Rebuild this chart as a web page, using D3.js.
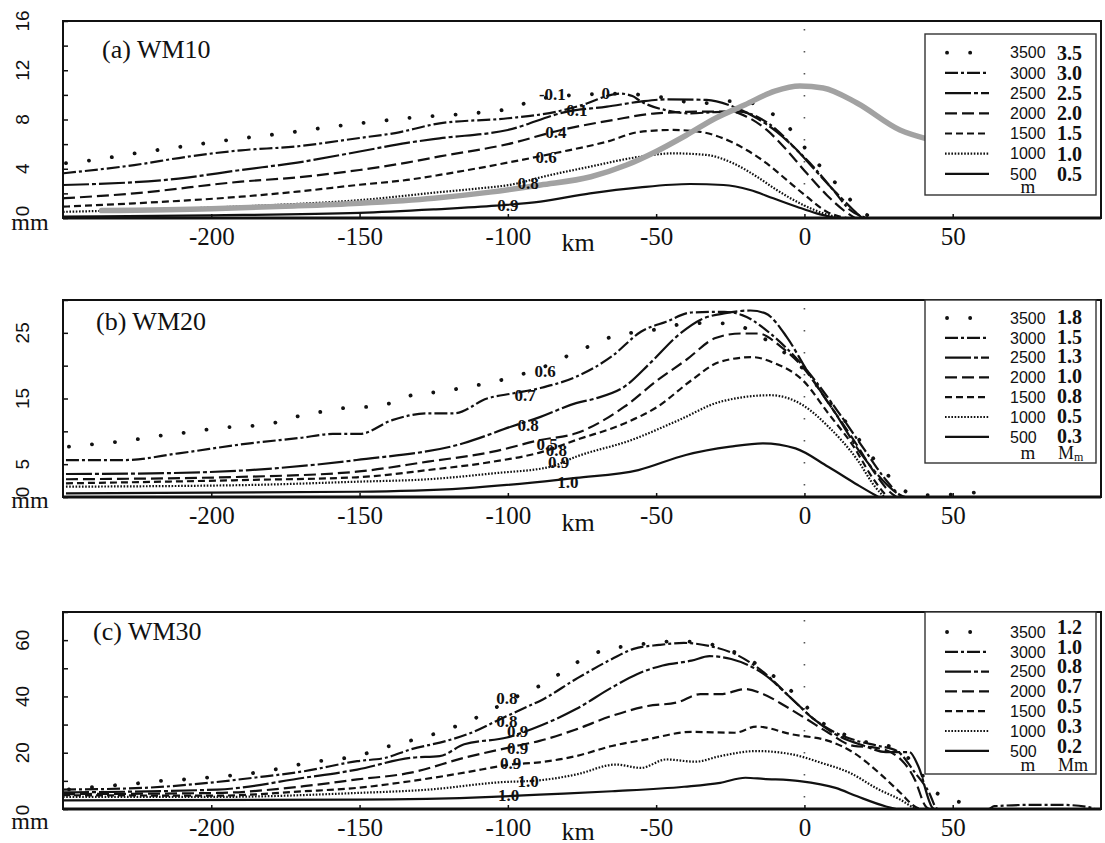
<!DOCTYPE html>
<html>
<head>
<meta charset="utf-8">
<script src="https://cdn.jsdelivr.net/npm/d3@7"></script>
<style>
  body { margin: 0; background: #fff; }
  svg { display: block; }
</style>
</head>
<body>
<svg></svg>
<script>
// MOUNTAIN HEIGHTS (m), ONE CURVE EACH
let heights = [3500, 3000, 2500, 2000, 1500, 1000, 500]
let xTicks = [-200, -150, -100, -50, 0, 50]

// PANEL (a) WM10, [km, mm]
let a3500 = [[-249,4.45],[-240,4.7],[-225,5.28],[-210,5.8],[-194,6.34],[-175,6.9],[-160,7.4],[-146,7.8],[-130,8.2],[-115,8.45],[-99,8.9],[-91,9.6],[-76,10.0],[-62,10.1],[-48,9.8],[-35,9.3],[-27,9.5],[-19,9.4],[-12.5,8.7],[-6,7.55],[-1.5,6.2],[3.5,4.7],[8.6,3.35],[13.6,2.0],[18.7,0.65],[23,0]]
let a3000 = [[-250,3.63],[-226,4.3],[-208,4.98],[-190,5.5],[-172,5.8],[-150,6.5],[-138,6.9],[-123,7.69],[-100,8.1],[-83.5,8.64],[-73.4,9.3],[-66,9.95],[-62,10.1],[-58,9.9],[-55,9.45],[-46,8.72],[-39,8.5],[-30,8.6],[-22,8.64],[-15,8.1],[-9.3,7.15],[-3.7,5.8],[3,4.17],[9.7,2.27],[15.4,0.65],[21,0]]
let a2500 = [[-250,2.68],[-211,3.2],[-190,3.9],[-171,4.5],[-150,5.4],[-134,6.1],[-123,6.47],[-100,7.15],[-80,8.64],[-66.6,9.04],[-55.4,9.45],[-46,9.64],[-33,9.59],[-24,9.04],[-16,8.1],[-9.3,7.0],[-2.6,5.52],[4.1,3.76],[10.9,2.0],[16.5,0.65],[19.5,0]]
let a2000 = [[-250,1.6],[-226,2.0],[-190,2.95],[-171,3.3],[-150,3.9],[-134,4.5],[-123,5.0],[-100,6.0],[-82,7.15],[-64.5,7.96],[-50,8.5],[-33,8.64],[-25,8.64],[-19.5,8.23],[-12.7,7.15],[-6,5.52],[0.8,3.63],[7.5,1.87],[13.1,0.65],[17,0]]
let a1500 = [[-250,0.92],[-226,1.19],[-190,1.73],[-171,2.14],[-150,2.7],[-134,3.09],[-123,3.5],[-100,4.5],[-83.5,5.3],[-66.6,6.2],[-55.4,7.0],[-44.3,7.15],[-35.2,7.0],[-27.4,6.47],[-19.5,5.52],[-12.7,4.44],[-6,3.09],[0.8,1.73],[7.5,0.51],[14.3,0]]
let a1000 = [[-250,0.5],[-225,0.65],[-200,0.85],[-175,1.1],[-150,1.45],[-123,2.1],[-112,2.35],[-97,2.8],[-89,3.3],[-72.3,4.17],[-55.4,4.98],[-44.2,5.25],[-33,5.12],[-24,4.44],[-16,3.35],[-9.3,2.27],[-1.5,1.19],[6.4,0.38],[12,0]]
let a500 = [[-250,0.12],[-200,0.22],[-150,0.42],[-125,0.7],[-104,1.0],[-89,1.33],[-72.3,2.0],[-55.4,2.49],[-38.6,2.76],[-27.3,2.68],[-18.3,2.27],[-10.5,1.6],[-2.6,0.92],[4.1,0.38],[10.5,0]]
let aTerrain = [[-237,0.6],[-200,0.75],[-175,0.95],[-150,1.2],[-125,1.6],[-106,2.1],[-89,2.68],[-72,3.35],[-60,4.3],[-50,5.4],[-40,6.7],[-30,8.1],[-20,9.2],[-10,10.3],[-1.5,10.72],[6.3,10.56],[17.7,9.34],[32.2,7.15],[41,6.45]]
let aLegend = ["3.5", "3.0", "2.5", "2.0", "1.5", "1.0", "0.5"]
let aLabelText = ["-0.1", "0", "0.1", "0.4", "0.6", "0.8", "0.9"]
let aLabelPos = [[-85,10.1],[-67,10.15],[-76.7,8.77],[-83.8,6.99],[-87.1,4.96],[-93.2,2.84],[-100,1.06]]

// PANEL (b) WM20
let b3500 = [[-248,7.66],[-239,8.07],[-231.5,8.42],[-223.7,8.88],[-215.8,9.44],[-208,9.85],[-200,10.35],[-192,10.7],[-184.6,10.9],[-176.8,11.47],[-169,12.5],[-161,13.1],[-153,13.65],[-145.4,13.75],[-138,14.5],[-130,15.8],[-122.5,16.0],[-114.7,16.7],[-107,17.3],[-99,18.2],[-88,19.8],[-77.6,21.97],[-70.3,23.4],[-63,24.7],[-54,25.2],[-39.3,26.4],[-31.4,26.5],[-23.5,26.2],[-10.2,23.1],[0,19.3],[7.9,14.8],[15.2,10.7],[23,6],[30.5,2.3],[37,0.3],[45,0.3],[53,0.5],[60,0.8]]
let b3000 = [[-249,5.63],[-229,5.63],[-211,6.65],[-187,8.18],[-170,9.0],[-159,9.6],[-150,9.6],[-139,11.7],[-127,12.75],[-118,12.75],[-107,15.0],[-98,15.8],[-89,16.6],[-77,18.3],[-65,21.4],[-55,25.2],[-46.6,26.7],[-38,28.1],[-27,28.2],[-21,27.7],[-10.2,24.4],[0.8,19.3],[11.8,12.7],[20.3,7.16],[27.5,2.6],[32.3,0.3],[34,0]]
let b2500 = [[-249,3.5],[-220,3.6],[-187,4.1],[-151,5.63],[-115,8.18],[-99,10.7],[-89,12.2],[-77,14.3],[-70.5,15.0],[-60.7,16.8],[-52,20.4],[-42.4,24.7],[-35,27.0],[-26.6,28.0],[-18.2,28.4],[-13.3,28.0],[-6,24.4],[0.8,19.3],[10.5,12.7],[19,6.65],[26.3,2.6],[31.2,0.56],[33,0]]
let b2000 = [[-249,2.7],[-187,3.1],[-151,3.85],[-127,5.38],[-105,6.9],[-89,8.68],[-77,9.7],[-60.7,13.75],[-49.5,17.8],[-39.8,20.9],[-30,24.2],[-21.5,24.9],[-15.5,24.9],[-8,22.9],[-0.6,19.8],[8.1,14.3],[16.6,8.68],[23.8,3.6],[28.7,0.8],[31,0]]
let b1500 = [[-249,2.08],[-187,2.6],[-151,3.0],[-127,4.1],[-105,5.38],[-89,6.8],[-77,8.68],[-60.7,11.2],[-49.5,13.75],[-38,17.8],[-28.4,20.6],[-17.5,21.3],[-10.2,20.4],[-0.6,17.8],[8.1,12.7],[16.6,7.66],[22.7,3.1],[26.9,0.56],[28,0]]
let b1000 = [[-249,1.57],[-187,1.83],[-151,2.33],[-127,2.7],[-105,3.6],[-85.6,4.6],[-77,6.14],[-58.3,8.68],[-42.4,11.7],[-28.4,14.5],[-11.4,15.5],[-0.6,14.0],[8.1,10.7],[17.9,5.63],[23.8,1.57],[26.3,0.3],[27,0]]
let b500 = [[-249,0.56],[-151,0.8],[-115,1.32],[-83,2.6],[-77,2.9],[-56,4.1],[-40,6.4],[-25,7.66],[-14,8.18],[-3,7.4],[8,4.6],[18,1.83],[23.8,0.3],[25,0]]
let bLegend = ["1.8", "1.5", "1.3", "1.0", "0.8", "0.5", "0.3"]
let bLabelText = ["0.6", "0.7", "0.8", "0.5", "0.8", "0.9", "1.0"]
let bLabelPos = [[-87.4,19.2],[-94.2,15.5],[-93.2,11.0],[-86.8,8.07],[-83.6,7.16],[-82.9,5.38],[-79.8,2.33]]

// PANEL (c) WM30
let c3500 = [[-248,7.0],[-234,8.3],[-226,9.0],[-218,9.9],[-209,10.5],[-201,11.2],[-190,12.25],[-182,13.4],[-174,15.0],[-166.5,16.6],[-158.7,17.6],[-150.8,18.8],[-143,21.4],[-135.7,23.6],[-128.5,25.4],[-121.3,28.0],[-113.5,31],[-106.2,34.9],[-93,42],[-86,45.5],[-82,48.5],[-74.6,53.3],[-67.3,56.6],[-59.4,57.9],[-51.5,59],[-42,59.6],[-32,58.6],[-22,55],[-12,48.5],[-2,39.5],[5,31.5],[12,27.2],[20,24],[30,21.8],[37,16],[43.3,6.9],[48.2,3.6],[56,2.1]]
let c3000 = [[-250,6.9],[-223,7.5],[-201,9.3],[-185,11.2],[-168.8,13.4],[-150.8,17.0],[-141.2,18.2],[-132.7,21.2],[-120.7,24.2],[-112.3,27.1],[-102.6,31.9],[-93,36.6],[-89,38.5],[-77,46.2],[-64.9,53.3],[-57.6,56.9],[-49,58.3],[-40.6,59.0],[-32,57.9],[-22.3,54.5],[-13.8,48.6],[-4.1,39.0],[3.2,31.9],[10.5,27.1],[17.8,24.2],[25.1,22.4],[31.2,20.6],[37.3,12.9],[42.1,5.7],[44.5,0.3],[45,0],[62,0],[64,1.0],[78.5,1.5],[86,1.5],[95.6,0.7],[98,0]]
let c2500 = [[-250,5.9],[-198,6.9],[-168.8,11.1],[-150.8,14.0],[-132.7,18.2],[-123,18.8],[-114.7,23.0],[-100.3,25.4],[-89.3,29.5],[-77,35.5],[-64.9,43.2],[-56.3,48],[-47.8,51],[-38.1,52.7],[-32,54.3],[-24.7,53.3],[-13.8,48],[-4.1,39.0],[3.2,31.9],[10.5,26.5],[20.3,22.4],[27.5,20.2],[35.4,20.2],[38.4,15.2],[43.3,0.3],[44,0]]
let c2000 = [[-250,5.3],[-198,5.7],[-168.8,8.1],[-150.8,10.5],[-132.7,12.9],[-114.7,18.2],[-96.7,22.5],[-89.3,24.2],[-77,28.3],[-64.9,33.1],[-52.8,36.6],[-42.8,37.9],[-35.1,40.8],[-28.4,40.8],[-19.9,42.6],[-13.8,40.8],[-6.5,36.6],[0.8,31.9],[8.1,27.1],[16.6,22.4],[23.8,21.8],[31.2,18.8],[37.2,10.5],[40.9,0.9],[42,0]]
let c1500 = [[-250,4.9],[-198,4.75],[-168.8,6.3],[-150.8,7.5],[-132.7,9.9],[-114.7,12.9],[-99,15.8],[-89.3,16.6],[-77,18.8],[-64.9,22.4],[-52.8,24.8],[-38.1,27.4],[-23.5,27.1],[-16.2,29.3],[-4.1,26.5],[8.1,24.2],[16.6,20],[25.1,12.9],[32.4,5.7],[37.2,0.9],[39,0]]
let c1000 = [[-250,4.3],[-198,4.3],[-150.8,5.7],[-126.7,6.9],[-102.6,9.5],[-89.3,10.2],[-77,12.25],[-63.6,15.8],[-55.1,14.6],[-46.6,17.6],[-36.8,16.8],[-28.4,18.8],[-16.2,20.6],[-4.1,19.4],[5.7,16.4],[15.2,12.9],[25.1,6.9],[32.4,3.3],[37.2,0.3],[38,0]]
let c500 = [[-250,3.1],[-150.8,3.3],[-105.4,4.3],[-89.3,5.1],[-64.9,6.3],[-40.6,7.9],[-28.4,9.3],[-19.9,11.1],[-13.8,10.7],[-1.6,9.9],[10.5,7.5],[17.8,4.5],[27.5,0.9],[31,0]]
let cLegend = ["1.2", "1.0", "0.8", "0.7", "0.5", "0.3", "0.2"]
let cLabelText = ["0.8", "0.8", "0.9", "0.9", "0.9", "1.0", "1.0"]
let cLabelPos = [[-100.3,39.6],[-100.3,31.3],[-96.7,27.7],[-96.7,21.7],[-99.1,16.2],[-93.2,9.9],[-99.7,5.1]]

// LINE STYLE PER HEIGHT
let styles = [
    {dash: '0.1,23', width: 3.8},
    {dash: '13,3,3,3', width: 2.2},
    {dash: '26,3,4,3', width: 2.2},
    {dash: '12,5', width: 2.2},
    {dash: '7,4', width: 2.2},
    {dash: '1.6,1.6', width: 2.2},
    {dash: null, width: 2.2}
]

let panels = [
    {top: 21, bottom: 218, yMax: 16, yTickStep: 2, yLabels: [0, 4, 8, 12, 16], zeroDy: -7,
     title: '(a) WM10', titleX: 102, titleY: 58, series: [a3500, a3000, a2500, a2000, a1500, a1000, a500],
     terrain: aTerrain, legend: aLegend, labelText: aLabelText, labelPos: aLabelPos,
     box: [34, 195], row0: 52.7, rowStep: 20.2, valueDy: 0, foot: 193, unit2: null, mmY: 230, kmY: 251},
    {top: 300, bottom: 497, yMax: 30, yTickStep: 5, yLabels: [0, 5, 15, 25], zeroDy: -5,
     title: '(b) WM20', titleX: 96, titleY: 330, series: [b3500, b3000, b2500, b2000, b1500, b1000, b500],
     terrain: null, legend: bLegend, labelText: bLabelText, labelPos: bLabelPos,
     box: [300, 463], row0: 318, rowStep: 19.8, valueDy: -1, foot: 459, unit2: 'sub', mmY: 508, kmY: 531},
    {top: 612, bottom: 809, yMax: 70, yTickStep: 10, yLabels: [0, 20, 40, 60], zeroDy: 1,
     title: '(c) WM30', titleX: 93, titleY: 640, series: [c3500, c3000, c2500, c2000, c1500, c1000, c500],
     terrain: null, legend: cLegend, labelText: cLabelText, labelPos: cLabelPos,
     box: [612, 774], row0: 632, rowStep: 19.8, valueDy: -5, foot: 771, unit2: 'plain', mmY: 829, kmY: 840}
]

let serif = '"Liberation Serif", "Times New Roman", serif'
let sans = '"Liberation Sans", Arial, sans-serif'

let svg = d3.select('svg')
    .attr('width', 1105)
    .attr('height', 843)

let x = d3.scaleLinear()
    .domain([-250, 100])
    .range([63, 1101])

let applyStyle = (sel, s) => sel
    .attr('fill', 'none')
    .attr('stroke', '#111')
    .attr('stroke-width', s.width)
    .attr('stroke-dasharray', s.dash)
    .attr('stroke-linecap', s.dash === '0.1,23' ? 'round' : 'butt')

panels.forEach(p => {
    let y = d3.scaleLinear()
        .domain([0, p.yMax])
        .range([p.bottom, p.top])

    let g = svg.append('g')

    let path = d3.line()
        .x(d => x(d[0]))
        .y(d => y(d[1]))
        .curve(d3.curveMonotoneX)

    // DOTTED LINE AT 0 KM
    g.append('line')
        .attr('x1', x(0)).attr('x2', x(0))
        .attr('y1', p.top + 8).attr('y2', p.bottom)
        .attr('stroke', '#555')
        .attr('stroke-width', 1.6)
        .attr('stroke-dasharray', '1.6,20.4')

    // CURVES
    g.selectAll('path.curve')
        .data(p.series)
        .enter()
        .append('path')
        .attr('class', 'curve')
        .attr('d', path)
        .each(function(d, i) { applyStyle(d3.select(this), styles[i]) })

    // TERRAIN (GRAY)
    if (p.terrain) {
        g.append('path')
            .attr('d', path(p.terrain))
            .attr('fill', 'none')
            .attr('stroke', '#a2a2a2')
            .attr('stroke-width', 5.5)
            .attr('stroke-linecap', 'round')
    }

    // CURVE LABELS
    g.selectAll('text.lab')
        .data(p.labelPos)
        .enter()
        .append('text')
        .attr('class', 'lab')
        .attr('x', d => x(d[0]))
        .attr('y', d => y(d[1]))
        .attr('dy', '0.35em')
        .attr('text-anchor', 'middle')
        .attr('font-family', serif)
        .attr('font-weight', 'bold')
        .attr('font-size', 17)
        .attr('fill', '#111')
        .text((d, i) => p.labelText[i])

    // X AXIS
    g.append('g')
        .attr('transform', `translate(0, ${p.bottom})`)
        .call(d3.axisBottom(x).tickValues(xTicks).tickSize(-4).tickPadding(9).tickFormat(d => String(d)))
        .call(a => a.select('.domain').remove())
        .call(a => a.selectAll('line').attr('stroke', '#111').attr('stroke-width', 1.5))
        .call(a => a.selectAll('text').attr('font-family', serif).attr('font-size', 25).attr('fill', '#111'))

    // Y AXIS
    g.append('g')
        .attr('transform', `translate(${x.range()[0]}, 0)`)
        .call(d3.axisLeft(y).tickValues(d3.range(0, p.yMax + 0.01, p.yTickStep)).tickSize(-5).tickFormat(''))
        .call(a => a.select('.domain').remove())
        .call(a => a.selectAll('line').attr('stroke', '#111').attr('stroke-width', 1.5))

    g.selectAll('text.ylab')
        .data(p.yLabels)
        .enter()
        .append('text')
        .attr('class', 'ylab')
        .attr('transform', d => `translate(22, ${y(d) + (d === 0 ? p.zeroDy : 0)}) rotate(-90)`)
        .attr('dy', '0.36em')
        .attr('text-anchor', 'middle')
        .attr('font-family', sans)
        .attr('font-size', 19)
        .attr('fill', '#111')
        .text(d => d)

    // FRAME
    g.append('rect')
        .attr('x', x.range()[0])
        .attr('y', p.top)
        .attr('width', x.range()[1] - x.range()[0])
        .attr('height', p.bottom - p.top)
        .attr('fill', 'none')
        .attr('stroke', '#111')
        .attr('stroke-width', 2)
    g.append('line')
        .attr('x1', x.range()[0]).attr('x2', x.range()[1])
        .attr('y1', p.bottom).attr('y2', p.bottom)
        .attr('stroke', '#111')
        .attr('stroke-width', 3)

    // TITLES AND UNITS
    g.append('text')
        .attr('x', p.titleX).attr('y', p.titleY)
        .attr('font-family', serif).attr('font-size', 26).attr('fill', '#111')
        .text(p.title)
    g.append('text')
        .attr('x', 30).attr('y', p.mmY)
        .attr('text-anchor', 'middle')
        .attr('font-family', serif).attr('font-size', 24).attr('fill', '#111')
        .text('mm')
    g.append('text')
        .attr('x', 578).attr('y', p.kmY)
        .attr('text-anchor', 'middle')
        .attr('font-family', serif).attr('font-size', 26).attr('fill', '#111')
        .text('km')

    // LEGEND
    let lg = g.append('g')
    lg.append('rect')
        .attr('x', 925).attr('y', p.box[0])
        .attr('width', 171).attr('height', p.box[1] - p.box[0])
        .attr('fill', '#fff')
        .attr('stroke', '#333')
        .attr('stroke-width', 1.4)

    let rows = lg.selectAll('g.row')
        .data(heights)
        .enter()
        .append('g')
        .attr('class', 'row')
        .attr('transform', (d, i) => `translate(0, ${p.row0 + i * p.rowStep})`)

    rows.append('line')
        .attr('x1', (d, i) => i === 0 ? 947 : 945)
        .attr('x2', (d, i) => i === 0 ? 971 : 989)
        .each(function(d, i) { applyStyle(d3.select(this), styles[i]) })

    rows.append('text')
        .attr('x', 1010)
        .attr('dy', '0.36em')
        .attr('font-family', sans).attr('font-size', 16).attr('fill', '#111')
        .text(d => d)

    rows.append('text')
        .attr('x', 1057)
        .attr('y', p.valueDy)
        .attr('dy', '0.34em')
        .attr('font-family', serif).attr('font-weight', 'bold').attr('font-size', 20).attr('fill', '#111')
        .text((d, i) => p.legend[i])

    lg.append('text')
        .attr('x', 1028).attr('y', p.foot)
        .attr('text-anchor', 'middle')
        .attr('font-family', serif).attr('font-size', 19).attr('fill', '#111')
        .text('m')

    if (p.unit2 === 'sub') {
        let t = lg.append('text')
            .attr('x', 1058).attr('y', p.foot)
            .attr('font-family', serif).attr('font-size', 18).attr('fill', '#111')
        t.append('tspan').text('M')
        t.append('tspan').attr('font-size', 12).attr('dy', 2).text('m')
    } else if (p.unit2 === 'plain') {
        lg.append('text')
            .attr('x', 1058).attr('y', p.foot)
            .attr('font-family', serif).attr('font-size', 18).attr('fill', '#111')
            .text('Mm')
    }
})
</script>
</body>
</html>
